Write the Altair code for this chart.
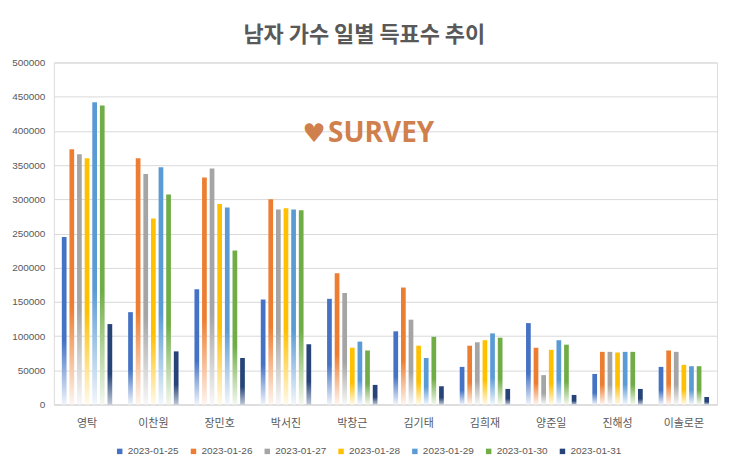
import altair as alt
import pandas as pd

singers = ["영탁", "이찬원", "장민호", "박서진", "박창근", "김기태", "김희재", "양준일", "진해성", "이솔로몬"]
dates = ["2023-01-25", "2023-01-26", "2023-01-27", "2023-01-28", "2023-01-29", "2023-01-30", "2023-01-31"]
colors = ["#4472C4", "#ED7D31", "#A5A5A5", "#FFC000", "#5B9BD5", "#70AD47", "#264478"]

v_0125 = [245000, 135000, 168500, 153500, 154500, 107000, 55000, 119000, 44700, 55000]
v_0126 = [373000, 360000, 332000, 300000, 192000, 171000, 86000, 83000, 77000, 79000]
v_0127 = [366000, 337000, 345000, 285000, 163000, 124000, 91000, 43000, 77000, 77000]
v_0128 = [360000, 272000, 293000, 287000, 83000, 86000, 94000, 80000, 76000, 58000]
v_0129 = [442000, 347000, 288000, 285000, 92000, 68000, 104000, 94000, 77000, 56000]
v_0130 = [437000, 307000, 225000, 284000, 79000, 99000, 97700, 87500, 77000, 56000]
v_0131 = [117600, 77700, 68000, 88000, 28700, 26700, 22800, 14000, 22800, 11000]

series = [v_0125, v_0126, v_0127, v_0128, v_0129, v_0130, v_0131]

rows = []
for d, vals in zip(dates, series):
    for s, v in zip(singers, vals):
        rows.append({"singer": s, "date": d, "votes": v})
df = pd.DataFrame(rows)


def mix(hexc, t):
    r, g, b = int(hexc[1:3], 16), int(hexc[3:5], 16), int(hexc[5:7], 16)
    r = round(r + (255 - r) * t)
    g = round(g + (255 - g) * t)
    b = round(b + (255 - b) * t)
    return "#%02x%02x%02x" % (r, g, b)


x_enc = alt.X("singer:N", sort=singers, title=None,
              scale=alt.Scale(paddingInner=0.24, paddingOuter=0.12),
              axis=alt.Axis(labelAngle=0, ticks=False, labelFontSize=11,
                            labelFont="Noto Sans CJK KR", labelColor="#595959",
                            labelPadding=13, domainColor="#D9D9D9"))
xo_enc = alt.XOffset("date:N", scale=alt.Scale(domain=dates, paddingInner=0.38, paddingOuter=0))
y_enc = alt.Y("votes:Q", title=None,
              scale=alt.Scale(domain=[0, 500000], nice=False),
              axis=alt.Axis(values=list(range(0, 500001, 50000)), format="d",
                            ticks=False, domain=False, labelFontSize=10,
                            labelFont="Liberation Sans", labelColor="#595959",
                            labelPadding=9, gridColor="#D9D9D9"))

base = alt.Chart(df)
layers = []
for d, c in zip(dates, colors):
    end = mix(c, 0.7 if c == "#264478" else 0.92)
    grad = alt.Gradient(gradient="linear", x1=0, y1=0, x2=0, y2=1,
                        stops=[alt.GradientStop(offset=0, color=c),
                               alt.GradientStop(offset=0.62, color=c),
                               alt.GradientStop(offset=1, color=end)])
    layers.append(
        base.transform_filter(alt.datum.date == d)
        .mark_bar(color=grad)
        .encode(x=x_enc, xOffset=xo_enc, y=y_enc)
    )

legend_layer = base.mark_square(opacity=0).encode(
    x=x_enc, xOffset=xo_enc, y=y_enc,
    color=alt.Color("date:N", scale=alt.Scale(domain=dates, range=colors),
                    legend=alt.Legend(title=None, orient="none", direction="horizontal",
                                      columns=7, legendX=61, legendY=385,
                                      symbolType="square", symbolSize=30,
                                      symbolOpacity=1, symbolStrokeWidth=0,
                                      labelFontSize=10, labelFont="Liberation Sans",
                                      labelColor="#595959", labelOffset=3,
                                      columnPadding=9))
)

wm = pd.DataFrame({"t": ["SURVEY"], "h": ["♥"]})
heart = alt.Chart(wm).mark_text(font="DejaVu Sans", fontSize=26, color="#D0804C",
                                align="center", baseline="middle").encode(
    text="h:N", x=alt.value(261), y=alt.value(72))
survey = alt.Chart(wm).mark_text(font="Open Sans", fontWeight="bold", fontSize=28,
                                 color="#D0804C", align="left", baseline="middle").encode(
    text="t:N", x=alt.value(275), y=alt.value(72))

chart = alt.layer(*layers, legend_layer, heart, survey).properties(
    width=665, height=343,
    padding={"left": 3, "top": 15, "right": 5, "bottom": 5},
    title=alt.TitleParams("남자 가수 일별 득표수 추이", font="Noto Sans CJK KR",
                          fontSize=22, fontWeight="bold", color="#595959",
                          anchor="middle", frame="bounds", offset=11),
).configure_view(stroke=None).configure(background="white")

chart.save("out.html", embed_options={"renderer": "svg", "actions": False})
